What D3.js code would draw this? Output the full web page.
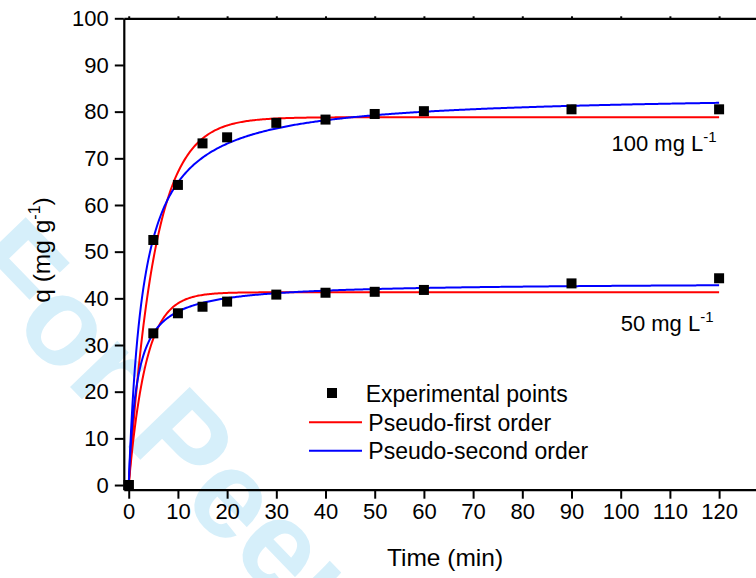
<!DOCTYPE html>
<html>
<head>
<meta charset="utf-8">
<script src="https://cdn.jsdelivr.net/npm/d3@7"></script>
<style>
  html, body { margin: 0; padding: 0; background: #fff; }
  svg { display: block; font-family: "Liberation Sans", Arial, sans-serif; }
</style>
</head>
<body>
<svg id="chart" width="756" height="578"></svg>
<script>
// Sampling times (min) and measured uptake q (mg/g)
const times = [0, 5, 10, 15, 20, 30, 40, 50, 60, 90, 120];
const q100 = [0, 52.5, 64.3, 73.2, 74.5, 77.6, 78.3, 79.5, 80.1, 80.5, 80.5];
const q50 = [0, 32.5, 36.8, 38.2, 39.3, 40.8, 41.2, 41.4, 41.8, 43.2, 44.3];

// Fitted kinetic parameters: [100 mg/L, 50 mg/L]
const pfoQe = [78.8, 41.3];      // mg/g
const pfoK = [0.19, 0.285];      // 1/min
const psoQe = [83.9, 43.4];      // mg/g
const psoK = [0.00405, 0.01373]; // g/(mg min)

const xTicks = [0, 10, 20, 30, 40, 50, 60, 70, 80, 90, 100, 110, 120];
const yTicks = [0, 10, 20, 30, 40, 50, 60, 70, 80, 90, 100];
const concLabels = ["100 mg L", "50 mg L"];
const legendLabels = ["Experimental points", "Pseudo-first order", "Pseudo-second order"];

const svg = d3.select("#chart");
const FONT = 22;

const x = d3.scaleLinear().domain([-1, 130]).range([123.8, 768.3]);
const y = d3.scaleLinear().domain([-1, 100]).range([489.7, 18.3]);

// Watermark behind the plot
svg.append("text")
  .attr("transform", "translate(-42,271) rotate(46)")
  .attr("font-size", 125)
  .attr("font-weight", "bold")
  .attr("fill", "#d6effa")
  .text("For Peer Review");

// Model curves
const pfo = (qe, k) => t => qe * (1 - Math.exp(-k * t));
const pso = (qe, k) => t => (qe * qe * k * t) / (1 + qe * k * t);
const tGrid = d3.range(0, 120.001, 0.25);
const line = d3.line().x(d => x(d[0])).y(d => y(d[1]));

[0, 1].forEach(i => {
  const f1 = pfo(pfoQe[i], pfoK[i]);
  const f2 = pso(psoQe[i], psoK[i]);
  svg.append("path")
    .attr("d", line(tGrid.map(t => [t, f1(t)])))
    .attr("fill", "none").attr("stroke", "#ff0000").attr("stroke-width", 2);
  svg.append("path")
    .attr("d", line(tGrid.map(t => [t, f2(t)])))
    .attr("fill", "none").attr("stroke", "#0000ff").attr("stroke-width", 2);
});

// Experimental points
const S = 10;
[q100, q50].forEach(series => {
  svg.append("g").selectAll("rect")
    .data(times.map((t, j) => [t, series[j]]))
    .join("rect")
    .attr("x", d => x(d[0]) - S / 2)
    .attr("y", d => y(d[1]) - S / 2)
    .attr("width", S).attr("height", S)
    .attr("fill", "#000");
});

// Axes
function styleAxis(g) {
  g.selectAll(".domain").attr("stroke", "#000").attr("stroke-width", 2.2);
  g.selectAll(".tick line").attr("stroke", "#000").attr("stroke-width", 2);
  g.selectAll(".tick text").attr("fill", "#000")
    .attr("font-size", FONT)
    .attr("font-family", "'Liberation Sans', Arial, sans-serif");
}

svg.append("g")
  .attr("transform", `translate(0,${y(-1)})`)
  .call(d3.axisBottom(x).tickValues(xTicks).tickSize(9).tickPadding(5).tickSizeOuter(0))
  .call(styleAxis);

svg.append("g")
  .attr("transform", `translate(0,${y(100)})`)
  .call(d3.axisTop(x).tickValues(xTicks).tickSize(2).tickFormat("").tickSizeOuter(0))
  .call(styleAxis);

svg.append("g")
  .attr("transform", `translate(${x(-1)},0)`)
  .call(d3.axisLeft(y).tickValues(yTicks).tickSize(9).tickPadding(6).tickSizeOuter(0))
  .call(styleAxis);

// Axis titles
svg.append("text")
  .attr("x", 445).attr("y", 566)
  .attr("text-anchor", "middle")
  .attr("font-size", 24.5)
  .text("Time (min)");

const yTitle = svg.append("text")
  .attr("transform", "translate(50,250) rotate(-90)")
  .attr("text-anchor", "middle")
  .attr("font-size", 24.5);
yTitle.append("tspan").text("q (mg g");
yTitle.append("tspan").attr("font-size", 16).attr("dy", -10).text("-1");
yTitle.append("tspan").attr("dy", 10).text(")");

// Concentration labels
[[611.5, 150.7], [620.7, 330.7]].forEach((p, i) => {
  const t = svg.append("text").attr("x", p[0]).attr("y", p[1]).attr("font-size", FONT);
  t.append("tspan").text(concLabels[i]);
  t.append("tspan").attr("font-size", 15).attr("dy", -9).text("-1");
});

// Legend
const LFONT = 23;
const lg = svg.append("g");
lg.append("rect").attr("x", 332 - S / 2).attr("y", 393 - S / 2)
  .attr("width", S).attr("height", S).attr("fill", "#000");
lg.append("line").attr("x1", 309).attr("x2", 362).attr("y1", 422.3).attr("y2", 422.3)
  .attr("stroke", "#ff0000").attr("stroke-width", 2);
lg.append("line").attr("x1", 309).attr("x2", 362).attr("y1", 450.7).attr("y2", 450.7)
  .attr("stroke", "#0000ff").attr("stroke-width", 2);
[[365.7, 401.5], [368.3, 430.5], [368.3, 459]].forEach((p, i) => {
  lg.append("text").attr("x", p[0]).attr("y", p[1]).attr("font-size", LFONT).text(legendLabels[i]);
});
</script>
</body>
</html>
